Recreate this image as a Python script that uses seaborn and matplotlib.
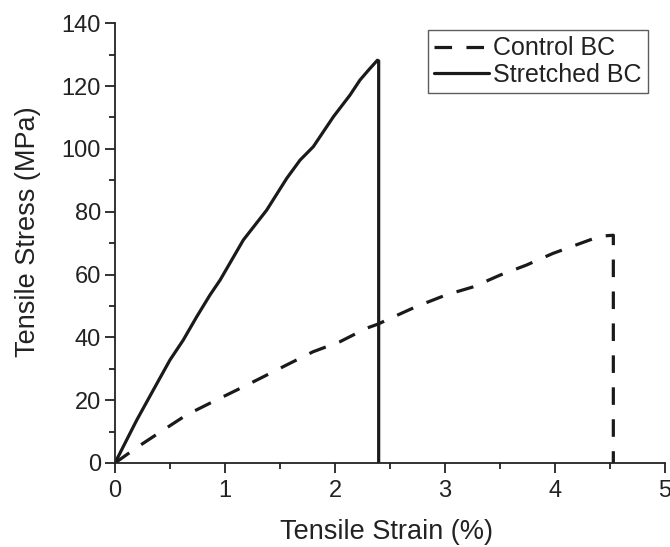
import matplotlib
matplotlib.use("Agg")
import matplotlib.pyplot as plt
import seaborn as sns
import pandas as pd

# Stress-strain readings (strain in %, stress in MPa)
control_strain = [0.0, 0.21, 0.44, 0.65, 0.89, 1.106, 1.318, 1.56, 1.8, 2.045, 2.287,
                  2.39, 2.5, 2.74, 3.01, 3.26, 3.5, 3.74, 3.98, 4.23, 4.41, 4.53, 4.53]
control_stress = [0.0, 5.2, 10.5, 15.3, 19.5, 23.2, 26.9, 31.2, 35.4, 38.6, 42.9,
                  44.2, 46.0, 49.8, 53.5, 56.1, 59.8, 63.0, 66.7, 69.9, 72.2, 72.5, 0.0]

stretched_strain = [0.0, 0.197, 0.348, 0.5, 0.62, 0.742, 0.864, 0.955, 1.167, 1.379,
                    1.561, 1.682, 1.803, 1.985, 2.136, 2.227, 2.303, 2.385, 2.397, 2.397]
stretched_stress = [0.0, 13.6, 23.2, 32.8, 39.1, 46.5, 53.5, 58.2, 71.0, 80.5,
                    90.6, 96.4, 100.7, 110.2, 117.1, 121.9, 125.0, 128.2, 128.0, 0.0]

labels = ["Control BC", "Stretched BC"]

sns.set_style("ticks")
plt.rcParams["font.family"] = ["Liberation Sans", "DejaVu Sans"]

df = pd.concat([
    pd.DataFrame({"strain": control_strain, "stress": control_stress, "sample": labels[0]}),
    pd.DataFrame({"strain": stretched_strain, "stress": stretched_stress, "sample": labels[1]}),
], ignore_index=True)

ink = "#222222"
fig = plt.figure(figsize=(6.7, 5.47), dpi=100)
ax = fig.add_axes([0.1716, 0.1536, 0.821, 0.804])

sns.lineplot(data=df, x="strain", y="stress", hue="sample", style="sample",
             palette=["#1a1a1a", "#1a1a1a"], dashes={labels[0]: (5.5, 4.5), labels[1]: ""},
             sort=False, estimator=None, linewidth=2.3, ax=ax)

ax.set_xlim(0, 5)
ax.set_ylim(0, 140)
ax.set_xticks([0, 1, 2, 3, 4, 5])
ax.set_xticks([0.5, 1.5, 2.5, 3.5, 4.5], minor=True)
ax.set_yticks(range(0, 141, 20))
ax.set_yticks(range(10, 140, 20), minor=True)
for side in ["top", "right"]:
    ax.spines[side].set_visible(False)
for side in ["left", "bottom"]:
    ax.spines[side].set_linewidth(1.3)
    ax.spines[side].set_color(ink)
ax.tick_params(which="major", direction="out", length=7, width=1.3, labelsize=17,
               colors=ink, labelcolor=ink)
ax.tick_params(which="minor", direction="out", length=4, width=1.3, colors=ink)
ax.tick_params(axis="x", which="major", pad=5)
ax.tick_params(axis="y", which="major", pad=3)

ax.set_xlabel("Tensile Strain (%)", fontsize=19.5, color=ink)
ax.set_ylabel("Tensile Stress (MPa)", fontsize=19.5, color=ink)
ax.xaxis.set_label_coords(0.493, -0.128)
ax.yaxis.set_label_coords(-0.135, 0.527)

leg = ax.legend(loc="upper right", bbox_to_anchor=(0.969, 0.984), fontsize=18,
                frameon=True, fancybox=False, handlelength=2.2, handletextpad=0.15,
                borderpad=0.25, labelspacing=0.1, borderaxespad=0)
leg.get_frame().set_edgecolor("#333333")
leg.get_frame().set_linewidth(1.0)
for t in leg.get_texts():
    t.set_color(ink)

fig.savefig("out.png", dpi=100)
